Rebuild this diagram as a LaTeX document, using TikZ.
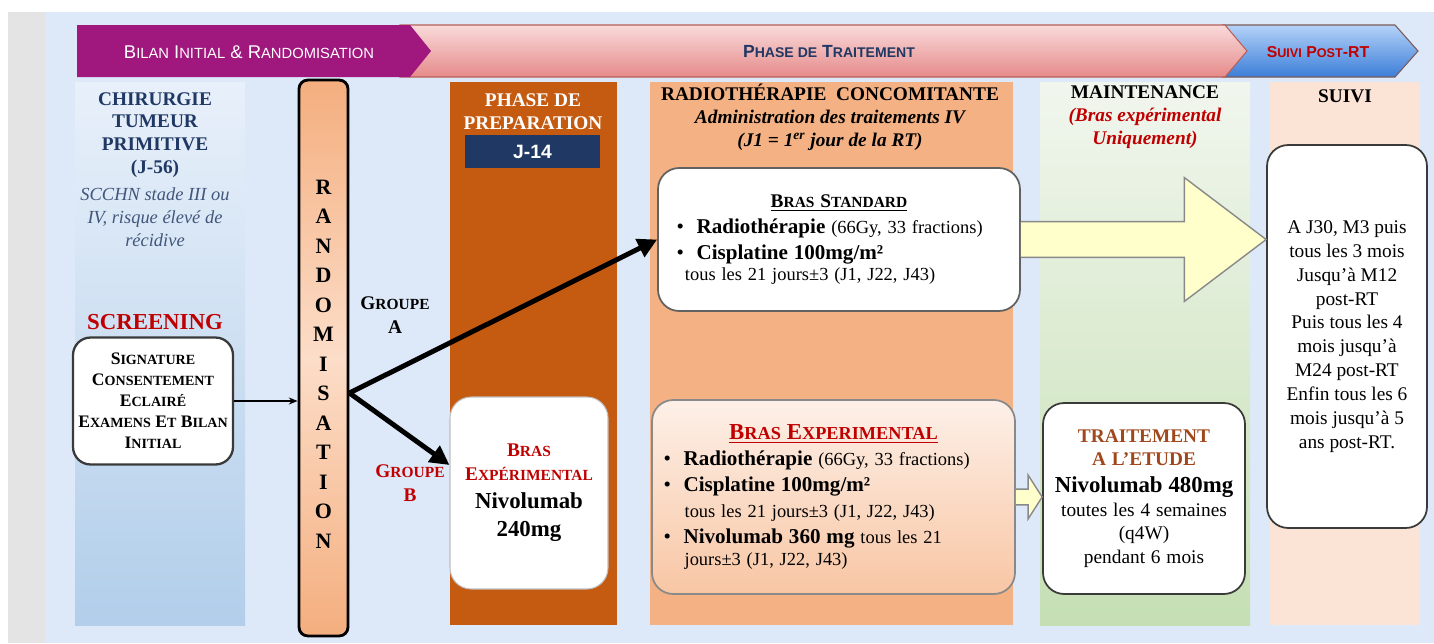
\documentclass[tikz,border=0pt]{standalone}
\usepackage{fontspec}
\setmainfont{Liberation Serif}
\setsansfont{Liberation Sans}
\usetikzlibrary{positioning, arrows.meta, calc}
\definecolor{clrbg}{HTML}{DDE9F8}
\definecolor{clrstrip}{HTML}{E4E4E4}
\definecolor{clrpurple}{HTML}{A0177E}
\definecolor{clrpinktop}{HTML}{F9DADA}
\definecolor{clrpinkbot}{HTML}{E68A8A}
\definecolor{clrpinkline}{HTML}{B8605A}
\definecolor{clrbluetop}{HTML}{B4D2F8}
\definecolor{clrbluebot}{HTML}{3C7ED8}
\definecolor{clrblueline}{HTML}{7A5A5A}
\definecolor{clrnavy}{HTML}{1F3864}
\definecolor{clrred}{HTML}{C00000}
\definecolor{clrprep}{HTML}{C55A11}
\definecolor{clrrt}{HTML}{F4B183}
\definecolor{clrgreentop}{HTML}{F1F6EE}
\definecolor{clrgreenbot}{HTML}{C5DFB3}
\definecolor{clrsuivi}{HTML}{FBE3D6}
\definecolor{clrpaneltop}{HTML}{E8F0FA}
\definecolor{clrpanelbot}{HTML}{B2CEEA}
\definecolor{clrrandotop}{HTML}{F4AE7E}
\definecolor{clrrandomid}{HTML}{FCDDC8}
\definecolor{clrexptop}{HTML}{FDF0E8}
\definecolor{clrexpbot}{HTML}{F8C6A4}
\definecolor{clrbrown}{HTML}{A0481C}
\definecolor{clryellow}{HTML}{FFFFCC}
\definecolor{clrborder}{HTML}{3A3A3A}
\newcommand{\smc}[1]{\scalebox{0.8}{#1}}

\begin{document}
\begin{tikzpicture}[
    x=0.02cm, y=-0.02cm,
    >=Stealth,
    roundbox/.style={draw=clrborder, fill=white, rounded corners=12pt, line width=1pt, inner sep=0pt, align=center},
    heading/.style={font=\bfseries\fontsize{11}{13}\selectfont, align=center},
    banner/.style={font=\sffamily\fontsize{10.5}{12}\selectfont},
    arrow/.style={->, line width=2.8pt, >={Triangle[length=11pt, width=11pt]}},
    thinarrow/.style={->, line width=0.9pt, >={Stealth[length=5pt, width=4pt]}},
    fatarrow/.style={draw=clrborder!60, fill=clryellow, line width=0.8pt},
]
\useasboundingbox (0,0) rectangle (1434,643);
\fill[clrstrip] (8,12) rectangle (45,643);
\fill[clrbg] (45,12) rectangle (1434,643);
\draw[clrblueline, line width=0.6pt, top color=clrbluetop, bottom color=clrbluebot] (1223,25) -- (1395,25) -- (1418,51) -- (1395,77) -- (1223,77) -- (1245,51) -- cycle;
\draw[clrpinkline, line width=0.6pt, top color=clrpinktop, bottom color=clrpinkbot] (400,25) -- (1225,25) -- (1247,51) -- (1225,77) -- (400,77) -- cycle;
\fill[clrpurple] (77,25) -- (410,25) -- (431,51) -- (410,77) -- (77,77) -- cycle;
\node[banner, text=white] (n_b1) at (249,52) {B\smc{ILAN} I\smc{NITIAL} \& R\smc{ANDOMISATION}};
\node[banner, text=clrnavy, font=\sffamily\bfseries\fontsize{10}{12}\selectfont] (n_b2) at (829,52) {P\smc{HASE DE} T\smc{RAITEMENT}};
\node[banner, text=clrred, font=\sffamily\bfseries\fontsize{9}{12}\selectfont] (n_b3) at (1318,52) {S\smc{UIVI} P\smc{OST}-RT};
\shade[top color=clrpaneltop, bottom color=clrpanelbot] (75,82) rectangle (245,625);
\fill[clrprep] (450,82) rectangle (617,625);
\fill[clrrt] (650,82) rectangle (1013,625);
\shade[top color=clrgreentop, bottom color=clrgreenbot] (1040,82) rectangle (1250,625);
\fill[clrsuivi] (1270,82) rectangle (1420,625);
\node[heading, text=clrnavy] (n_surg) at (155,135) {CHIRURGIE\\TUMEUR\\PRIMITIVE\\(J-56)};
\node[text=clrnavy!85, font=\itshape\fontsize{10.5}{13}\selectfont, align=center] (n_surg_note) at (155,217) {SCCHN stade III ou\\IV, risque élevé de\\récidive};
\node[font=\bfseries\fontsize{13}{15}\selectfont, text=clrred] (n_screen_title) at (155,322) {SCREENING};
\node[roundbox, line width=1.3pt, rounded corners=10pt, minimum width=3.2cm, minimum height=2.54cm, font=\bfseries\fontsize{10}{12}\selectfont] (n_screen) at (153,401) {S\smc{IGNATURE}\\C\smc{ONSENTEMENT}\\E\smc{CLAIRÉ}\\E\smc{XAMENS} E\smc{T} B\smc{ILAN}\\I\smc{NITIAL}};
\node[draw=black, line width=1.6pt, rounded corners=5pt, top color=clrrandotop, bottom color=clrrandotop, middle color=clrrandomid, minimum width=0.98cm, minimum height=11.12cm, inner sep=0pt] (n_rando) at (323.5,358) {};
\node[font=\bfseries\fontsize{12.5}{16.8}\selectfont, align=center] (n_rando_txt) at (n_rando.center |- 0,364) {R\\A\\N\\D\\O\\M\\I\\S\\A\\T\\I\\O\\N};
\node[font=\bfseries\fontsize{11}{14}\selectfont, align=center] (n_grpA) at (395,315) {G\smc{ROUPE}\\A};
\node[font=\bfseries\fontsize{11}{14}\selectfont, align=center, text=clrred] (n_grpB) at (410,483) {G\smc{ROUPE}\\B};
\node[heading, text=white] (n_prep_title) at (533,112) {PHASE DE\\PREPARATION};
\node[fill=clrnavy, text=white, font=\sffamily\bfseries\fontsize{11}{13}\selectfont, minimum width=2.7cm, minimum height=0.66cm, inner sep=0pt] (n_j14) at (532.5,151.5) {J-14};
\node[roundbox, draw=white!75!black, line width=0.6pt, minimum width=3.16cm, minimum height=3.84cm, text width=3.1cm] (n_prep) at (529,493) {{\color{clrred}\bfseries\fontsize{11}{13.5}\selectfont B\smc{RAS}\\E\smc{XPÉRIMENTAL}\par}
{\bfseries\fontsize{13}{16}\selectfont Nivolumab\\240mg\par}};
\node[heading] (n_rt_title) at (830,117) {RADIOTHÉRAPIE\ \ CONCOMITANTE\\{\itshape Administration des traitements IV}\\{\itshape (J1 = 1\textsuperscript{er} jour de la RT)}};
\node[heading] (n_maint_title) at (1145,117) {MAINTENANCE\\{\itshape\color{clrred} (Bras expérimental}\\{\itshape\color{clrred} Uniquement)}};
\node[heading] (n_suivi_title) at (1345,96) {SUIVI};
\node[roundbox, draw=clrborder!80, minimum width=7.24cm, minimum height=2.86cm, text width=6.5cm, align=left] (n_std) at (839,239.5) {{\centering\bfseries\fontsize{11}{16}\selectfont\underline{B\smc{RAS} S\smc{TANDARD}}\par}
\fontsize{12}{14.7}\selectfont
\textbullet\hspace{0.6em}\textbf{Radiothérapie} {\fontsize{10.5}{14.7}\selectfont (66Gy, 33 fractions)}\par
\textbullet\hspace{0.6em}\textbf{Cisplatine 100mg/m²}\par
\hspace*{0.4em}{\fontsize{10.5}{14.7}\selectfont tous les 21 jours±3 (J1, J22, J43)}};
\node[roundbox, draw=clrborder!60, top color=clrexptop, bottom color=clrexpbot, minimum width=7.26cm, minimum height=3.88cm, text width=6.8cm, align=left] (n_exp) at (833.5,497) {{\centering\color{clrred}\bfseries\fontsize{13}{17}\selectfont\underline{B\smc{RAS} E\smc{XPERIMENTAL}}\par}
\fontsize{12}{14.8}\selectfont
\textbullet\hspace{0.6em}\textbf{Radiothérapie} {\fontsize{10.5}{14.8}\selectfont (66Gy, 33 fractions)}\par
\textbullet\hspace{0.6em}\textbf{Cisplatine 100mg/m²}\par
\hspace*{1.0em}{\fontsize{10.5}{14.8}\selectfont tous les 21 jours±3 (J1, J22, J43)}\par
\textbullet\hspace{0.6em}\textbf{Nivolumab 360 mg} {\fontsize{10.5}{14.8}\selectfont tous les 21}\par
\hspace*{1.0em}{\fontsize{10.5}{14.8}\selectfont jours±3 (J1, J22, J43)}};
\node[roundbox, minimum width=4.04cm, minimum height=3.82cm, text width=3.95cm] (n_maint) at (1144,498.5) {{\color{clrbrown}\bfseries\fontsize{11}{13.5}\selectfont TRAITEMENT\\A L’ETUDE\par}
{\bfseries\fontsize{13}{15}\selectfont Nivolumab 480mg\par}
{\fontsize{11}{13.5}\selectfont toutes les 4 semaines\\(q4W)\\pendant 6 mois\par}\vspace*{6pt}};
\node[roundbox, minimum width=3.2cm, minimum height=7.66cm, font=\fontsize{11}{13.6}\selectfont] (n_suivi) at (1347,336.5) {A J30, M3 puis\\tous les 3 mois\\Jusqu'à M12\\post-RT\\Puis tous les 4\\mois jusqu'à\\M24 post-RT\\Enfin tous les 6\\mois jusqu'à 5\\ans post-RT.};
\draw[fatarrow] let \p1=(n_std.east), \p2=(n_suivi.west) in (\x1,\y1+10.2pt) -- (\x2-46.5pt,\y1+10.2pt) -- (\x2-46.5pt,\y1+35.2pt) -- (\x2,\y1) -- (\x2-46.5pt,\y1-35.2pt) -- (\x2-46.5pt,\y1-10.2pt) -- (\x1,\y1-10.2pt);
\draw[fatarrow] let \p1=(n_exp.east), \p2=(n_maint.west) in (\x1,\y1+4.5pt) -- (\x2-8pt,\y1+4.5pt) -- (\x2-8pt,\y1+12.5pt) -- (\x2,\y1) -- (\x2-8pt,\y1-12.5pt) -- (\x2-8pt,\y1-4.5pt) -- (\x1,\y1-4.5pt);
\coordinate (n_split) at ([yshift=-0.7cm]n_rando.east);
\draw[arrow] (n_split) -- (n_std.west);
\draw[arrow] (n_split) -- ([yshift=0.56cm]n_prep.west);
\draw[thinarrow] (n_screen.east) -- (n_screen.east -| n_rando.west);
\end{tikzpicture}
\end{document}
